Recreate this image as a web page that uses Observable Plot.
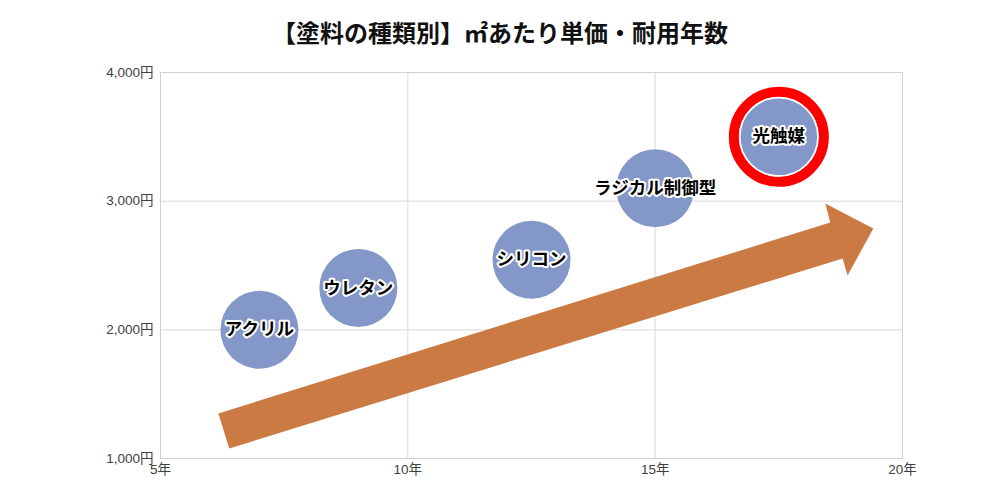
<!DOCTYPE html>
<html><head><meta charset="utf-8">
<script src="https://cdn.jsdelivr.net/npm/d3@7"></script>
<script src="https://cdn.jsdelivr.net/npm/@observablehq/plot@0.6"></script>
<style>
body{margin:0;background:#fff;font-family:"Noto Sans CJK JP",sans-serif;}
#title{height:56px;line-height:64px;text-align:center;font-size:24px;font-weight:bold;color:#111;}
</style></head><body>
<div id="title">【塗料の種類別】㎡あたり単価・耐用年数</div>
<div id="chart"></div>
<script>
const names = ["アクリル","ウレタン","シリコン","ラジカル制御型","光触媒"];
const years = [7, 9, 12.5, 15, 17.5];
const prices = [2000, 2325, 2545, 3100, 3500];
const highlight = ["光触媒"];
const xTicks = [5, 10, 15, 20];
const yTicks = [1000, 2000, 3000, 4000];
// trend arrow outline in data units (years, yen)
const arrowX = [6.17, 18.54, 18.44, 19.41, 18.89, 18.79, 6.39];
const arrowY = [1350, 2834, 2982, 2788, 2423, 2555, 1078];

const bubbles = names.map((n,i)=>({name:n, x:years[i], y:prices[i]}));
const arrow = arrowX.map((x,i)=>({x, y:arrowY[i]}));
const hl = bubbles.filter(d=>highlight.includes(d.name));

const chart = Plot.plot({
  width: 1000, height: 444,
  marginLeft: 160, marginRight: 98, marginTop: 16, marginBottom: 42,
  style: {fontFamily: '"Liberation Sans","Noto Sans CJK JP",sans-serif', fontSize: "13.5px", color: "#404040", background: "#fff"},
  x: {domain: [5, 20], label: null},
  y: {domain: [1000, 4000], label: null},
  marks: [
    Plot.gridX(xTicks, {stroke: "#d9d9d9", strokeOpacity: 1}),
    Plot.gridY(yTicks, {stroke: "#d9d9d9", strokeOpacity: 1}),
    Plot.frame({stroke: "#d0d0d0"}),
    Plot.axisX({ticks: xTicks, tickFormat: d => d + "年", tickSize: 0, tickPadding: 6, fill: "#404040"}),
    Plot.axisY({ticks: yTicks, tickFormat: d => d3.format(",")(d) + "円", tickSize: 0, tickPadding: 7, fill: "#404040"}),
    Plot.line(arrow, {x: "x", y: "y", fill: "#cc7a44", stroke: "none", curve: "linear"}),
    Plot.dot(hl, {x: "x", y: "y", r: 45, stroke: "#ff0000", strokeWidth: 10, fill: "none"}),
    Plot.dot(bubbles, {x: "x", y: "y", r: 39, fill: "#8497c9", stroke: d => highlight.includes(d.name) ? "#ffffff" : "none", strokeWidth: 1.5}),
    Plot.text(bubbles, {x: "x", y: "y", text: "name", fontSize: 17.5, fontWeight: "bold", fill: "#000", stroke: "#fff", strokeWidth: 4, fontFamily: '"Noto Sans CJK JP",sans-serif'})
  ]
});
document.getElementById("chart").appendChild(chart);
</script>
</body></html>
